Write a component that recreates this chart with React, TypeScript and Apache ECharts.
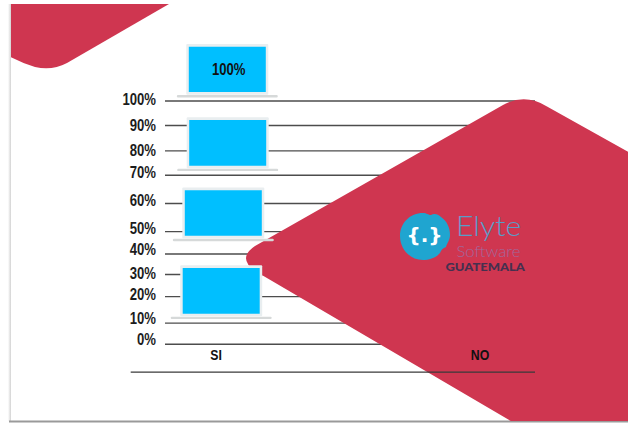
import React, { useEffect, useRef } from "react";
import * as echarts from "echarts";

// Survey result: share of answers for each option, drawn as stacked laptops.
const categories = ["SI", "NO"];
const seriesValues = [100, 0];

// The printed scale is hand-spaced, so each tick has its own level on the axis.
const tickLabels = ["100%", "90%", "80%", "70%", "60%", "50%", "40%", "30%", "20%", "10%", "0%"];
const ruleLevels = [100, 89.9, 79.5, 69.5, 57.9, 46.3, 37.1, 28.7, 19.6, 8.7, 0];
const tickLabelLevels = [100.8, 90.1, 79.6, 70.4, 58.9, 47.5, 38.9, 29.2, 20.3, 10.4, 1.8];
const baselineLevel = -11.4;
const categoryLabelLevel = -4.6;

// Each laptop's screen spans these levels, top of the stack first.
const laptopTops = [122.3, 92.2, 63.3, 31.4];
const laptopFloors = [103.7, 73.4, 44.6, 12.6];
const laptopShifts = [11.3, 11.7, 7.3, 5.2];

const RULE_START = 165;
const RULE_END = 535;
const BASELINE_START = 130.7;
const LABEL_FONT = "'Liberation Sans', Arial, sans-serif";
const CONDENSE = 0.82;

echarts.graphic.registerShape(
  "bigBanner",
  echarts.graphic.extendPath(
    "M 628 151.7 L 547 106.5 Q 525 93 503 105 L 255 246 Q 237 258 255 271 L 510.7 421 L 628 421 Z",
    {}
  )
);
echarts.graphic.registerShape(
  "cornerBanner",
  echarts.graphic.extendPath(
    "M 11 4 L 169 4 L 67 63 Q 52 71 35 67 Q 22 63 11 57.3 Z",
    {}
  )
);
echarts.graphic.registerShape(
  "logoBlob",
  echarts.graphic.extendPath(
    "M 400 236 C 400 223 410 213 423 213 C 427 213 428 215 431 215 C 434 213 438 214 441 217 C 447 221 450 228 450 235 C 450 240 447 243 446 247 C 443 248 441 250 440 253 C 436 258 429 260 423 260 C 410 260 400 249 400 236 Z",
    {}
  )
);

export default function App() {
  const hostRef = useRef<HTMLDivElement>(null);

  useEffect(() => {
    const chart = echarts.init(hostRef.current, null, { renderer: "svg" });

    chart.setOption({
      animation: false,
      backgroundColor: "#ffffff",
      grid: { left: 84, top: 101, width: 528, height: 243.3 },
      xAxis: {
        type: "category",
        data: categories,
        axisLine: { show: false },
        axisTick: { show: false },
        axisLabel: { show: false },
      },
      yAxis: {
        type: "value",
        min: 0,
        max: 100,
        interval: 10,
        show: false,
      },
      graphic: [
        {
          type: "rect",
          z: 1,
          shape: { x: 8, y: 4, width: 3, height: 417 },
          style: {
            fill: new echarts.graphic.LinearGradient(0, 0, 1, 0, [
              { offset: 0, color: "#ffffff" },
              { offset: 1, color: "#d2d2d2" },
            ]),
          },
        },
        { type: "rect", z: 1, shape: { x: 9, y: 420.5, width: 619, height: 2 }, style: { fill: "#9a9a9a" } },
        { type: "cornerBanner", z: 3, style: { fill: "#cf3650" } },
        { type: "bigBanner", z: 3, style: { fill: "#cf3650" } },
        { type: "logoBlob", z: 4, style: { fill: "#1fa5d0" } },
        {
          type: "text",
          z: 5,
          x: 424.5,
          y: 235,
          style: {
            text: "{.}",
            fontFamily: "'DejaVu Sans', sans-serif",
            fontWeight: "bold",
            fontSize: 20,
            fill: "#ffffff",
            align: "center",
            verticalAlign: "middle",
          },
        },
        {
          type: "text",
          z: 5,
          x: 456,
          y: 225,
          scaleX: 1.08,
          style: {
            text: "Elyte",
            fontFamily: "Lato, 'Open Sans', sans-serif",
            fontWeight: 300,
            fontSize: 28,
            fill: "#5a9cc8",
            verticalAlign: "middle",
          },
        },
        {
          type: "text",
          z: 5,
          x: 456.5,
          y: 251,
          scaleX: 1.08,
          style: {
            text: "Software",
            fontFamily: "Lato, 'Open Sans', sans-serif",
            fontWeight: 300,
            fontSize: 15.5,
            fill: "#a2689c",
            verticalAlign: "middle",
          },
        },
        {
          type: "text",
          z: 5,
          x: 445.5,
          y: 267,
          scaleX: 1.08,
          style: {
            text: "GUATEMALA",
            fontFamily: "Lato, 'Open Sans', sans-serif",
            fontWeight: 900,
            fontSize: 12,
            fill: "#45304f",
            verticalAlign: "middle",
          },
        },
      ],
      series: [
        {
          // Scale rules, covered by the banner where it crosses them.
          type: "custom",
          z: 1,
          silent: true,
          clip: false,
          data: ruleLevels.map((level) => [0, level]),
          renderItem: (_p: unknown, api: any) => {
            const y = api.coord([0, api.value(1)])[1];
            return {
              type: "line",
              shape: { x1: RULE_START, y1: y, x2: RULE_END, y2: y },
              style: { stroke: "#4d4d4d", lineWidth: 1.4 },
            };
          },
        },
        {
          // Axis baseline sits in front of the banner.
          type: "custom",
          z: 6,
          silent: true,
          clip: false,
          data: [[0, baselineLevel]],
          renderItem: (_p: unknown, api: any) => {
            const y = api.coord([0, api.value(1)])[1];
            return {
              type: "line",
              shape: { x1: BASELINE_START, y1: y, x2: RULE_END, y2: y },
              style: { stroke: "#3a3a3a", lineWidth: 1.2 },
            };
          },
        },
        {
          // Scale labels sit at their own levels, a little off the rules.
          type: "custom",
          z: 6,
          silent: true,
          clip: false,
          data: tickLabelLevels.map((level) => [0, level]),
          renderItem: (params: any, api: any) => {
            const y = api.coord([0, api.value(1)])[1];
            return {
              type: "text",
              x: 156,
              y,
              scaleX: CONDENSE,
              style: {
                text: tickLabels[params.dataIndex],
                fontFamily: LABEL_FONT,
                fontWeight: "bold",
                fontSize: 16,
                fill: "#1c1c1c",
                align: "right",
                verticalAlign: "middle",
              },
            };
          },
        },
        {
          // Category names under the zero rule, in front of the banner.
          type: "custom",
          z: 6,
          silent: true,
          clip: false,
          data: categories.map((_name, i) => [i, categoryLabelLevel]),
          renderItem: (params: any, api: any) => {
            const [x, y] = api.coord([api.value(0), api.value(1)]);
            return {
              type: "text",
              x,
              y,
              scaleX: CONDENSE,
              style: {
                text: categories[params.dataIndex],
                fontFamily: LABEL_FONT,
                fontWeight: "bold",
                fontSize: 15,
                fill: "#111111",
                align: "center",
                verticalAlign: "middle",
              },
            };
          },
        },
        {
          // The SI stack: one laptop per quarter of the column.
          type: "custom",
          z: 6,
          silent: true,
          clip: false,
          data: laptopTops.map((top, i) => [0, top, laptopFloors[i], laptopShifts[i]]),
          renderItem: (params: any, api: any) => {
            const [cx, yTop] = api.coord([api.value(0), api.value(1)]);
            const yFloor = api.coord([api.value(0), api.value(2)])[1];
            const mid = cx + api.value(3);
            const screenW = 77;
            const children: any[] = [
              {
                type: "rect",
                shape: { x: mid - 50.5, y: yFloor + 3, width: 101, height: 2.4, r: 1.2 },
                style: { fill: "#d6d9d9" },
              },
              {
                type: "rect",
                shape: { x: mid - screenW / 2 - 2.5, y: yTop - 2.7, width: screenW + 5, height: yFloor - yTop + 5.4, r: 1 },
                style: { fill: "#e9eef0" },
              },
              {
                type: "rect",
                shape: { x: mid - screenW / 2, y: yTop, width: screenW, height: yFloor - yTop },
                style: { fill: "#00bfff" },
              },
            ];
            if (params.dataIndex === 0) {
              children.push({
                type: "text",
                x: cx + 12.7,
                y: (yTop + yFloor) / 2,
                scaleX: CONDENSE,
                style: {
                  text: `${seriesValues[0]}%`,
                  fontFamily: LABEL_FONT,
                  fontWeight: "bold",
                  fontSize: 16,
                  fill: "#111111",
                  align: "center",
                  verticalAlign: "middle",
                },
              });
            }
            return { type: "group", children };
          },
        },
      ],
    });

    return () => chart.dispose();
  }, []);

  return (
    <div
      ref={hostRef}
      style={{ position: "absolute", left: 0, top: 0, width: 628, height: 423 }}
    />
  );
}
